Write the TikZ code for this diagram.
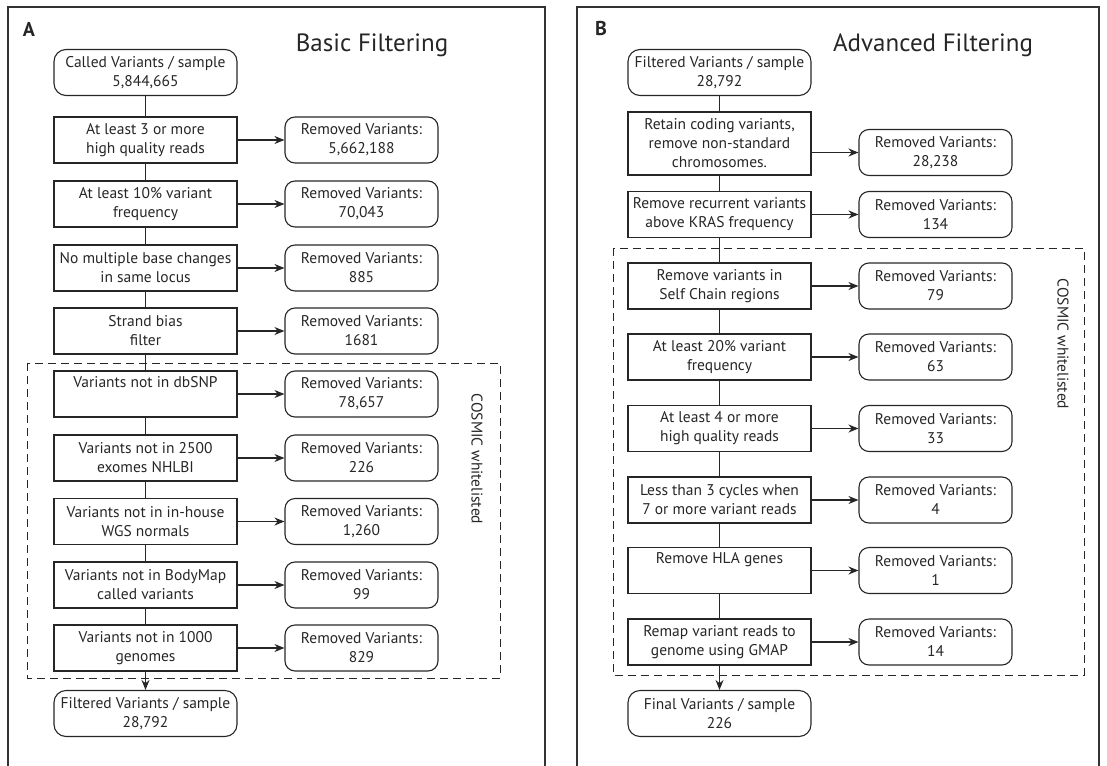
\documentclass[tikz,border=0pt]{standalone}
\usepackage{fontspec}
\setmainfont{PT Sans}
\usetikzlibrary{arrows.meta,positioning}

\begin{document}
\begin{tikzpicture}[x=1pt,y=-1pt,>={Stealth[length=10pt,width=8pt]},
  every node/.style={font=\fontsize{15.5}{19}\selectfont,text=black!85},
  stepbox/.style={draw=black!85,line width=1.1pt,minimum width=183pt,minimum height=46pt,inner sep=0pt,align=center},
  endbox/.style={stepbox,rounded corners=12pt},
  outbox/.style={stepbox,rounded corners=10pt,minimum width=153pt},
  link/.style={draw=black!85,line width=1.1pt},
  arr/.style={link,->},
  whitelist/.style={draw=black!85,line width=1pt,dash pattern=on 8pt off 5pt},
  panel/.style={draw=black!80,line width=1.1pt},
  title/.style={font=\fontsize{25}{30}\selectfont},
  tag/.style={font=\fontsize{20}{24}\selectfont\bfseries}]
\useasboundingbox (0,0) rectangle (1107,765);

% panel A: basic filtering
\draw[panel] (8,775) |- (545,7) -- (545,775);
\node[tag] (tagA) at (29,29) {A};
\node[title] (titleA) at (372,45) {Basic Filtering};
\node[endbox] (a0) at (145.5,72.5) {Called Variants / sample\\5,844,665};
\node[stepbox] (a1) at (145.5,140) {At least 3 or more\\high quality reads};
\node[stepbox] (a2) at (145.5,204) {At least 10\% variant\\frequency};
\node[stepbox] (a3) at (145.5,268) {No multiple base changes\\in same locus};
\node[stepbox] (a4) at (145.5,331) {Strand bias\\filter};
\node[stepbox] (a5) at (145.5,394) {Variants not in dbSNP\\\strut};
\node[stepbox] (a6) at (145.5,458) {Variants not in 2500\\exomes NHLBI};
\node[stepbox] (a7) at (145.5,521.5) {Variants not in in-house\\WGS normals};
\node[stepbox] (a8) at (145.5,585) {Variants not in BodyMap\\called variants};
\node[stepbox] (a9) at (145.5,648) {Variants not in 1000\\genomes};
\node[endbox] (af) at (145.5,713.5) {Filtered Variants / sample\\28,792};
\node[outbox] (ra1) at (361.5,140) {Removed Variants:\\5,662,188};
\node[outbox] (ra2) at (361.5,204) {Removed Variants:\\70,043};
\node[outbox] (ra3) at (361.5,268) {Removed Variants:\\885};
\node[outbox] (ra4) at (361.5,331) {Removed Variants:\\1681};
\node[outbox] (ra5) at (361.5,394) {Removed Variants:\\78,657};
\node[outbox] (ra6) at (361.5,458) {Removed Variants:\\226};
\node[outbox] (ra7) at (361.5,521.5) {Removed Variants:\\1,260};
\node[outbox] (ra8) at (361.5,585) {Removed Variants:\\99};
\node[outbox] (ra9) at (361.5,648) {Removed Variants:\\829};
\draw[whitelist] (27,363) rectangle (500,678);
\node[rotate=-90] (cosA) at (477,459) {COSMIC whitelisted};
\foreach \i [evaluate=\i as \k using int(\i+1)] in {0,...,8}
  \draw[link] (a\i) -- (a\k);
\foreach \i in {1,...,9}
  \draw[arr] (a\i) -- (ra\i);
\draw[arr] (a9) -- (af);

% panel B: advanced filtering
\draw[panel] (577,775) |- (1099,7) -- (1099,775);
\node[tag] (tagB) at (601,29) {B};
\node[title] (titleB) at (933,45) {Advanced Filtering};
\node[endbox] (b0) at (719.5,72.5) {Filtered Variants / sample\\28,792};
\node[stepbox,minimum height=63pt] (b1) at (719.5,143.5) {Retain coding variants,\\remove non-standard\\chromosomes.};
\node[stepbox] (b2) at (719.5,214.5) {Remove recurrent variants\\above KRAS frequency};
\node[stepbox] (b3) at (719.5,286) {Remove variants in\\Self Chain regions};
\node[stepbox] (b4) at (719.5,357) {At least 20\% variant\\frequency};
\node[stepbox] (b5) at (719.5,428.5) {At least 4 or more\\high quality reads};
\node[stepbox] (b6) at (719.5,500) {Less than 3 cycles when\\7 or more variant reads};
\node[stepbox] (b7) at (719.5,570.5) {Remove HLA genes\\\strut};
\node[stepbox] (b8) at (719.5,642) {Remap variant reads to\\genome using GMAP};
\node[endbox] (bf) at (719.5,713.5) {Final Variants / sample\\226};
\node[outbox] (rb1) at (935.5,152.5) {Removed Variants:\\28,238};
\node[outbox] (rb2) at (935.5,214.5) {Removed Variants:\\134};
\node[outbox] (rb3) at (935.5,286) {Removed Variants:\\79};
\node[outbox] (rb4) at (935.5,357) {Removed Variants:\\63};
\node[outbox] (rb5) at (935.5,428.5) {Removed Variants:\\33};
\node[outbox] (rb6) at (935.5,500) {Removed Variants:\\4};
\node[outbox] (rb7) at (935.5,570.5) {Removed Variants:\\1};
\node[outbox] (rb8) at (935.5,642) {Removed Variants:\\14};
\draw[whitelist] (613,248) rectangle (1084,675);
\node[rotate=-90] (cosB) at (1063,344) {COSMIC whitelisted};
\foreach \i [evaluate=\i as \k using int(\i+1)] in {0,...,7}
  \draw[link] (b\i) -- (b\k);
\draw[arr] (b1.east |- rb1) -- (rb1);
\foreach \i in {2,...,8}
  \draw[arr] (b\i) -- (rb\i);
\draw[arr] (b8) -- (bf);
\end{tikzpicture}
\end{document}
